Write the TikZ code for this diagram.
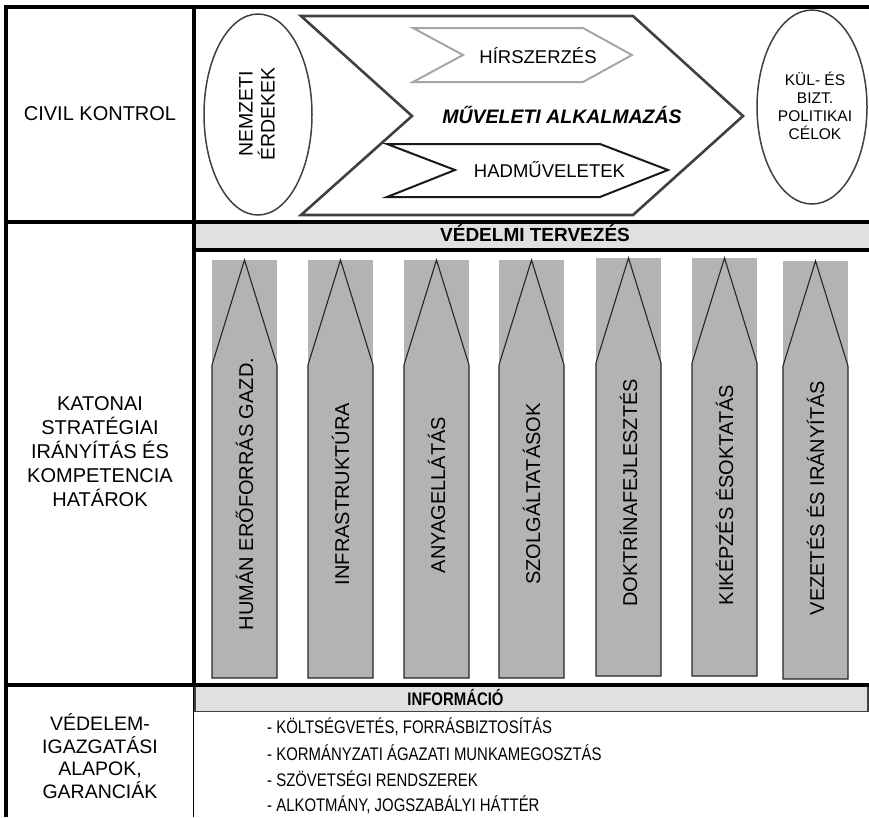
\documentclass[tikz,border=0pt]{standalone}
\usepackage{fontspec}
\setmainfont{Liberation Sans}
\newfontfamily\narrowfont[FakeStretch=0.82]{Liberation Sans}
\usetikzlibrary{shapes.geometric}
\definecolor{bandgray}{HTML}{E0E0E0}
\definecolor{pillargray}{HTML}{B3B3B3}
\definecolor{dkgray}{HTML}{404040}
\definecolor{ltgray}{HTML}{A6A6A6}
\definecolor{outl}{HTML}{262626}
\begin{document}
\begin{tikzpicture}[x=1pt,y=-1pt,
  gridline/.style={line width=3.6pt,black},
  thinline/.style={line width=1.3pt,dkgray},
  oval/.style={ellipse,draw=dkgray,line width=1.5pt,inner sep=0pt},
  lbl/.style={inner sep=0pt,align=center,font=\fontsize{20}{24}\selectfont},
  pilltxt/.style={inner sep=0pt,rotate=90,font=\fontsize{20}{24}\selectfont},
  listtxt/.style={inner sep=0pt,anchor=base west,font=\narrowfont\fontsize{18.2}{22}\selectfont},
]
\useasboundingbox (0,0) rectangle (869,817);

% ---- bands ----
\fill[bandgray] (195,224) rectangle (869,248.5);
\filldraw[fill=bandgray,draw=dkgray,line width=1.2pt] (195,686) rectangle (868,711.5);

% ---- top section ----
\node[oval,minimum width=108pt,minimum height=201pt] (ne) at (258,114.5) {};
\node[oval,minimum width=110pt,minimum height=194pt] (kp) at (812,107) {};
\draw[dkgray,line width=2.6pt,line join=miter] (301,16) -- (633,16) -- (743,116) -- (633,215) -- (301,215) -- (412,116) -- cycle;
\draw[ltgray,line width=2pt,line join=miter] (413,28) -- (583,28) -- (632,55) -- (583,82) -- (413,82) -- (463,55) -- cycle;
\draw[black!90,line width=2pt,line join=miter] (387,144) -- (600,144) -- (668,170) -- (600,197) -- (387,197) -- (455,170) -- cycle;

\node[lbl] (civil) at (100,114) {CIVIL KONTROL};
\node[lbl,rotate=90,font=\fontsize{19.5}{22}\selectfont] (net) at (257,114) {NEMZETI\\ÉRDEKEK};
\node[inner sep=0pt,anchor=base,font=\bfseries\itshape\fontsize{19.5}{22}\selectfont] (mua) at (562,123) {MŰVELETI ALKALMAZÁS};
\node[inner sep=0pt,anchor=base,font=\fontsize{18.5}{22}\selectfont] (hir) at (538,63) {HÍRSZERZÉS};
\node[inner sep=0pt,anchor=base,font=\fontsize{18.5}{22}\selectfont] (had) at (549.5,177) {HADMŰVELETEK};
\node[lbl,font=\fontsize{15.5}{18}\selectfont] (kpt) at (815,106) {KÜL- ÉS\\BIZT.\\POLITIKAI\\CÉLOK};

% ---- middle section ----
\node[inner sep=0pt,anchor=base,font=\bfseries\fontsize{19}{22}\selectfont] (vt) at (535,241.7) {VÉDELMI TERVEZÉS};
\node[lbl] (kat) at (100,452) {KATONAI\\STRATÉGIAI\\IRÁNYÍTÁS ÉS\\KOMPETENCIA\\HATÁROK};

\foreach \pl/\ptop/\pbot/\pty/\ptxt [count=\i] in
  {212/260/678/494/{HUMÁN ERŐFORRÁS GAZD.},
   308/260/678/494/{INFRASTRUKTÚRA},
   404/260/678/495/{ANYAGELLÁTÁS},
   499/260/678/494/{SZOLGÁLTATÁSOK},
   596/258/676/493/{DOKTRÍNAFEJLESZTÉS},
   692/258/676/495/{KIKÉPZÉS ÉSOKTATÁS},
   783/261/679/498/{VEZETÉS ÉS IRÁNYÍTÁS}}
{
  \fill[pillargray] (\pl,\ptop) rectangle (\pl+65,\ptop+105);
  \filldraw[fill=pillargray,draw=outl,line width=1.1pt,line join=miter]
     (\pl,\ptop+105) -- (\pl+32.5,\ptop) -- (\pl+65,\ptop+105) -- (\pl+65,\pbot) -- (\pl,\pbot) -- cycle;
  \node[pilltxt] (p\i) at (\pl+32.5,\pty) {\ptxt};
}

% ---- bottom section ----
\node[inner sep=0pt,anchor=base,font=\narrowfont\bfseries\fontsize{18.2}{22}\selectfont] (info) at (455.5,705) {INFORMÁCIÓ};
\node[lbl,font=\fontsize{19.5}{22.5}\selectfont] (veg) at (100,756) {VÉDELEM-\\IGAZGATÁSI\\ALAPOK,\\GARANCIÁK};
\node[listtxt] (l1) at (267,733) {- KÖLTSÉGVETÉS, FORRÁSBIZTOSÍTÁS};
\node[listtxt] (l2) at (267,760) {- KORMÁNYZATI ÁGAZATI MUNKAMEGOSZTÁS};
\node[listtxt] (l3) at (267,786) {- SZÖVETSÉGI RENDSZEREK};
\node[listtxt] (l4) at (267,811) {- ALKOTMÁNY, JOGSZABÁLYI HÁTTÉR};

% ---- grid lines ----
\draw[gridline] (3.9,6.7) -- (869,6.7);
\draw[gridline] (5.7,4.9) -- (5.7,817);
\draw[gridline] (194,4.9) -- (194,686);
\draw[line width=1.4pt,black] (193.5,686) -- (193.5,817);
\draw[gridline] (3.9,222) -- (869,222);
\draw[gridline] (194,250) -- (869,250);
\draw[gridline] (3.9,685) -- (869,685);
\end{tikzpicture}
\end{document}
